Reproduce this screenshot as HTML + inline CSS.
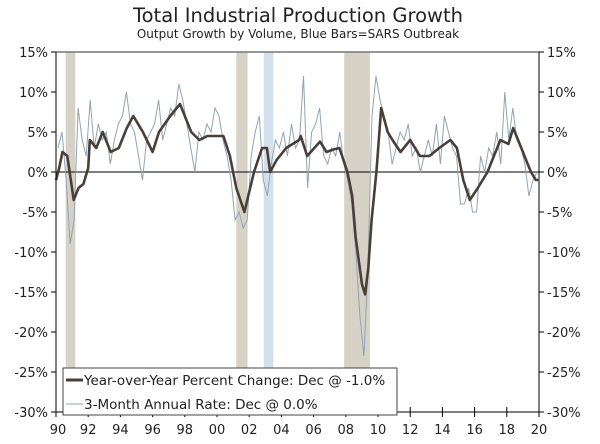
<!DOCTYPE html>
<html><head><meta charset="utf-8"><style>
body{margin:0;background:#fff;}
svg text{font-family:"DejaVu Sans","Liberation Sans",sans-serif;fill:#222;}
</style></head><body>
<svg id="c" width="600" height="439" xmlns="http://www.w3.org/2000/svg">
<text x="298" y="22" text-anchor="middle" font-size="19.5">Total Industrial Production Growth</text>
<text x="298" y="38" text-anchor="middle" font-size="12">Output Growth by Volume, Blue Bars=SARS Outbreak</text>
<g id="shade"></g><g id="grid"></g><g id="lines"></g><g id="axes"></g>
<g>
<rect x="63" y="368" width="334" height="47" fill="#fff" stroke="#444" stroke-width="1"/>
<line x1="66" y1="380" x2="83" y2="380" stroke="#4a3f38" stroke-width="3"/>
<text x="84" y="385" font-size="13.5">Year-over-Year Percent Change: Dec @ -1.0%</text>
<line x1="66" y1="404" x2="83" y2="404" stroke="#8fa4b4" stroke-width="1"/>
<text x="84" y="409" font-size="13.5">3-Month Annual Rate: Dec @ 0.0%</text>
</g>
</svg>
<script>
const yTicks=[15,10,5,0,-5,-10,-15,-20,-25,-30];
const xTickYears=[1990,1992,1994,1996,1998,2000,2002,2004,2006,2008,2010,2012,2014,2016,2018,2020];
const xTickLabels=["90","92","94","96","98","00","02","04","06","08","10","12","14","16","18","20"];
const recessionStart=[1990.6,2001.2,2007.9];
const recessionEnd=[1991.2,2001.9,2009.5];
const sarsStart=[2002.9];
const sarsEnd=[2003.5];
const yoyDates=[1990,1990.2,1990.4,1990.7,1991.1,1991.4,1991.7,1992.0,1992.1,1992.5,1992.9,1993.4,1993.9,1994.4,1994.8,1995.4,1996.0,1996.4,1997.1,1997.7,1998.0,1998.4,1998.9,1999.4,1999.9,2000.4,2000.8,2001.2,2001.7,2002.3,2002.8,2003.1,2003.3,2003.7,2004.3,2005.1,2005.2,2005.6,2006.4,2006.8,2007.2,2007.6,2008.1,2008.4,2008.6,2008.8,2009.0,2009.2,2009.4,2009.6,2009.9,2010.2,2010.6,2010.9,2011.4,2012.0,2012.6,2013.2,2013.8,2014.5,2014.9,2015.3,2015.7,2016.2,2016.8,2017.2,2017.6,2018.1,2018.4,2018.8,2019.3,2019.5,2019.8,2019.95];
const yoyValues=[-1,0.5,2.5,2,-3.5,-2,-1.5,0.5,4,3,5,2.5,3,5.5,7,5,2.5,5,7,8.5,7,5,4,4.5,4.5,4.5,2,-2,-5,0,3,3,0,1.5,3,4,4.5,2,3.8,2.5,2.8,3,0,-3,-8,-11,-14,-15.3,-12,-6,0,8,5,4,2.5,4,2,2,3,4,3,-1,-3.5,-2,0,2,4,3.5,5.5,3.5,1,0,-1,-1];
const m3Values=[3,5,-1,-9,-6,8,4,2,9,3,6,4,5,1,4,6,7,10,6,5,2,-1,4,5,6,9,4,6,8,7,11,9,6,3,0,5,4,6,5,8,7,4,2,-1,-6,-5,-7,-6,2,5,7,-1,-3,1,4,3,5,2,6,3,4,12,-2,5,6,8,2,1,3,2,5,1,-1,-4,-10,-18,-23,-12,7,12,9,7,5,1,3,5,4,6,2,3,0,2,4,2,6,1,7,5,3,2,-4,-4,-2,-5,-5,2,0,3,2,5,1,10,4,8,4,3,1,-3,-1,0];
const NS="http://www.w3.org/2000/svg";
const X0=56,X1=539,Y0=52,Y1=412;
const xs=y=>X0+(y-1990)/30*(X1-X0);
const ys=v=>Y0+(15-v)/45*(Y1-Y0);
function mk(tag,attrs,parent){const e=document.createElementNS(NS,tag);for(const k in attrs)e.setAttribute(k,attrs[k]);parent.appendChild(e);return e;}
const shade=document.getElementById('shade'),axes=document.getElementById('axes'),lines=document.getElementById('lines'),grid=document.getElementById('grid');
recessionStart.forEach((s,i)=>{const r=mk('rect',{x:xs(s),y:Y0,width:xs(recessionEnd[i])-xs(s),height:Y1-Y0,fill:'#d6d2c6'},shade);

});
sarsStart.forEach((s,i)=>{const r=mk('rect',{x:xs(s),y:Y0,width:xs(sarsEnd[i])-xs(s),height:Y1-Y0,fill:'#d5e0ee'},shade);

});
mk('line',{x1:X0,x2:X1,y1:Y0,y2:Y0,stroke:'#777','stroke-width':1.5},grid);
const zl=mk('line',{x1:X0,x2:X1,y1:ys(0),y2:ys(0),stroke:'#000','stroke-width':1},grid);


let d='';m3Values.forEach((v,i)=>{d+=(i?'L':'M')+xs(1990+i/4+0.125).toFixed(1)+','+ys(v).toFixed(1);});
const p3=mk('path',{d:d,fill:'none',stroke:'#8fa4b4','stroke-width':1},lines);


d='';yoyValues.forEach((v,i)=>{d+=(i?'L':'M')+xs(yoyDates[i]).toFixed(1)+','+ys(v).toFixed(1);});
const py=mk('path',{d:d,fill:'none',stroke:'#4a3f38','stroke-width':2.6,'stroke-linejoin':'round'},lines);


mk('line',{x1:X0,x2:X0,y1:Y0,y2:Y1,stroke:'#000'},axes);
mk('line',{x1:X1,x2:X1,y1:Y0,y2:Y1,stroke:'#000'},axes);
mk('line',{x1:X0,x2:X1,y1:Y1,y2:Y1,stroke:'#000'},axes);
yTicks.forEach(v=>{const y=ys(v);
mk('line',{x1:X0-5,x2:X0,y1:y,y2:y,stroke:'#000'},axes);
mk('line',{x1:X1,x2:X1+5,y1:y,y2:y,stroke:'#000'},axes);
const t1=mk('text',{x:X0-8,y:y+5,'text-anchor':'end','font-size':13},axes);t1.textContent=v+'%';


const t2=mk('text',{x:X1+8,y:y+5,'font-size':13},axes);t2.textContent=v+'%';

});
xTickYears.forEach((yr,i)=>{const x=xs(yr)+(i===0?2:0);
mk('line',{x1:xs(yr),x2:xs(yr),y1:Y1-5,y2:Y1+5,stroke:'#000'},axes);
const t=mk('text',{x:x,y:434,'text-anchor':'middle','font-size':13},axes);t.textContent=xTickLabels[i];

});
</script>
</body></html>
